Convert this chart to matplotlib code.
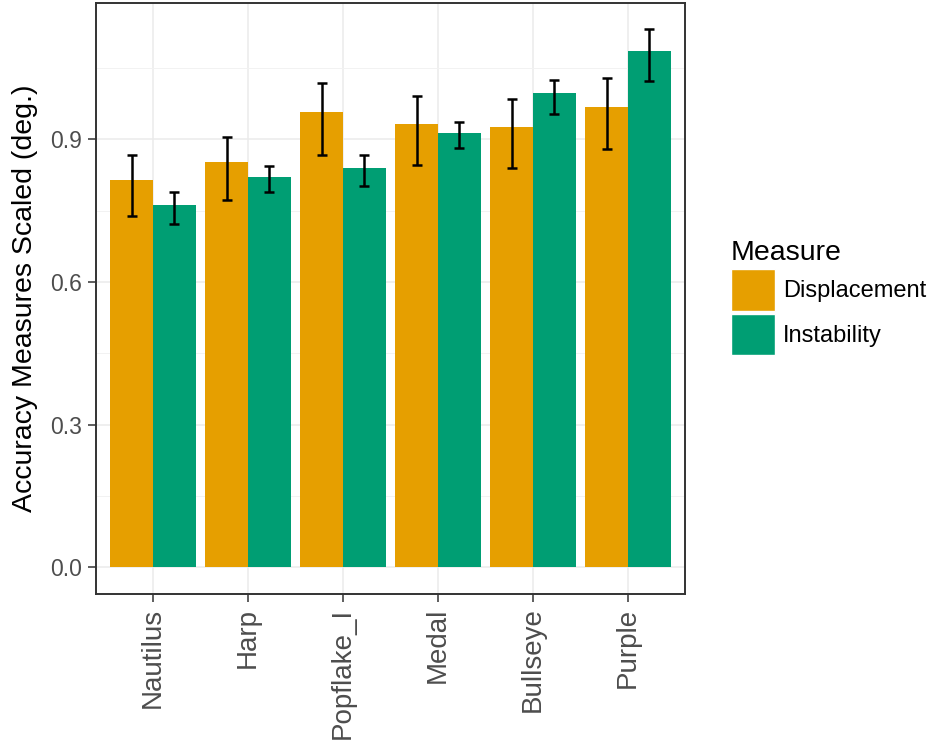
# Barras com intervalos de erro - medidas de acurácia por forma

import numpy as np
import matplotlib
matplotlib.use('Agg')
import matplotlib.pyplot as plt
from matplotlib.patches import Patch

plt.rcParams['font.family'] = ['Liberation Sans', 'DejaVu Sans']

# Dados (média e limites do intervalo)
formas = ['Nautilus', 'Harp', 'Popflake_I', 'Medal', 'Bullseye', 'Purple']

deslocamento = [0.814, 0.852, 0.958, 0.933, 0.926, 0.969]
deslocamento_inf = [0.738, 0.773, 0.868, 0.847, 0.840, 0.879]
deslocamento_sup = [0.867, 0.905, 1.018, 0.992, 0.984, 1.030]

instabilidade = [0.761, 0.821, 0.840, 0.914, 0.997, 1.087]
instabilidade_inf = [0.721, 0.789, 0.801, 0.881, 0.954, 1.023]
instabilidade_sup = [0.790, 0.845, 0.867, 0.937, 1.026, 1.132]

yticks = [0.0, 0.3, 0.6, 0.9]
yticks_menores = [0.15, 0.45, 0.75, 1.05]

cor_desl = '#E69F00'
cor_inst = '#009E73'

fig = plt.figure(figsize=(9.3, 7.42), dpi=100)
ax = fig.add_axes([0.1032, 0.1995, 0.6334, 0.7971])

x = np.arange(1, len(formas) + 1)
largura = 0.45

# Grade estilo ggplot (theme_bw)
ax.set_axisbelow(True)
ax.set_yticks(yticks)
ax.set_yticks(yticks_menores, minor=True)
ax.set_xticks(x)
ax.grid(True, which='major', color='#EBEBEB', linewidth=1.1)
ax.grid(True, which='minor', axis='y', color='#F2F2F2', linewidth=0.7)

ax.bar(x - largura / 2, deslocamento, width=largura, color=cor_desl, zorder=2)
ax.bar(x + largura / 2, instabilidade, width=largura, color=cor_inst, zorder=2)

# Barras de erro
for pos, vals, inf, sup in [(x - largura / 2, deslocamento, deslocamento_inf, deslocamento_sup),
                            (x + largura / 2, instabilidade, instabilidade_inf, instabilidade_sup)]:
    vals = np.array(vals)
    yerr = [vals - np.array(inf), np.array(sup) - vals]
    ax.errorbar(pos, vals, yerr=yerr, fmt='none', ecolor='black',
                elinewidth=1.8, capsize=3.4, capthick=1.8, zorder=3)

ax.set_xlim(0.4, 6.6)
ax.set_ylim(-0.0566, 1.188)

ax.set_xticklabels(formas, rotation=90, va='top', ha='center',
                   fontsize=20, color='#4D4D4D')
ax.set_yticklabels(['0.0', '0.3', '0.6', '0.9'], fontsize=16.5, color='#4D4D4D')
ax.tick_params(axis='both', which='major', length=5.8, width=1.1, color='#333333')
ax.tick_params(axis='x', pad=4)
ax.tick_params(axis='y', pad=4.3)
ax.tick_params(which='minor', length=0)

ax.set_ylabel('Accuracy Measures Scaled (deg.)', fontsize=20.5, labelpad=9)

for lado in ax.spines.values():
    lado.set_color('#333333')
    lado.set_linewidth(1.4)

# Legenda
handles = [Patch(facecolor=cor_desl, edgecolor='white', linewidth=1),
           Patch(facecolor=cor_inst, edgecolor='white', linewidth=1)]
leg = fig.legend(handles, ['Displacement', 'Instability'], title='Measure',
                 loc='upper left', bbox_to_anchor=(731 / 930, 1 - 240 / 742),
                 frameon=False, fontsize=17, title_fontsize=20.5,
                 handlelength=1.85, handleheight=2.35, handletextpad=0.35,
                 labelspacing=0.12, borderpad=0, borderaxespad=0,
                 alignment='left')

plt.savefig('out.png', dpi=100, facecolor='white')
